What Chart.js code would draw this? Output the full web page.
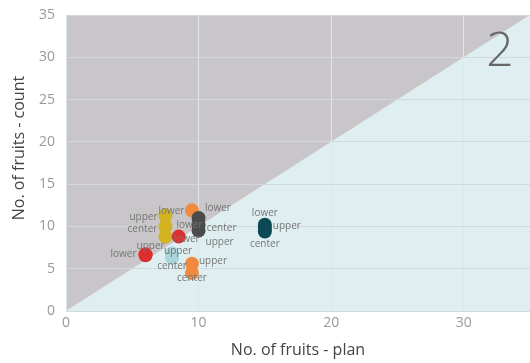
<!DOCTYPE html>
<html>
<head>
<meta charset="utf-8">
<script src="https://cdn.jsdelivr.net/npm/chart.js@4"></script>
<style>
  body { margin: 0; background: #fff; }
  #wrap { width: 530px; height: 363px; }
</style>
</head>
<body>
<div id="wrap"><canvas id="fruit_chart"></canvas></div>
<script>
// plan vs. actual fruit counts, one point per branch position
var planValues  = [7.5, 7.5, 7.5, 9.5, 10, 10, 10, 8.5, 6.0, 6.0, 8.0, 8.0, 9.5, 9.5, 15, 15, 15];
var countValues = [11.3, 10.0, 8.8, 11.9, 11.0, 10.2, 9.5, 8.8, 6.6, 6.7, 6.8, 6.3, 5.6, 4.5, 10.2, 9.8, 9.4];
var pointLabels = ['lower', 'upper', 'center', 'lower', 'lower', 'center', 'upper', 'lower', 'lower',
                   'upper', 'upper', 'center', 'upper', 'center', 'lower', 'upper', 'center'];

var xTicks = [0, 10, 20, 30];
var yTicks = [0, 5, 10, 15, 20, 25, 30, 35];
var diagonal = [0, 35];
var panelNumber = '2';

// colours and label placement (pixel offset from the point)
var pointColors = ['#d3b31f', '#d3b31f', '#d3b31f', '#f08a3e', '#4b4b4b', '#4b4b4b', '#4b4b4b',
                   '#dc2e2e', '#dc2e2e', '#dc2e2e', '#a9d5db', '#a9d5db', '#f08a3e', '#f08a3e',
                   '#0b4a54', '#0b4a54', '#0b4a54'];
var labelOffsets = [[6, -4], [-22, -9], [-23, -7], [26, -2], [-9, 7], [23, 3], [21, 11],
                    [8, 3], [-22, -1], [5, -8], [6, -2], [0, 8], [21, -2], [0, 5],
                    [0, -12], [22, -2], [0, 13]];

function buildPoints() {
    var pts = [];
    for (var i = 0; i < planValues.length; i++) {
        pts.push({x: planValues[i], y: countValues[i]});
    }
    return pts;
}

var diagLine = diagonal.map(function (v) { return {x: v, y: v}; });

var pointLabelPlugin = {
    id: 'pointLabelPlugin',
    afterDatasetsDraw: function (chart) {
        var ctx = chart.ctx;
        var meta = chart.getDatasetMeta(2);
        ctx.save();
        ctx.font = '10px "Open Sans"';
        ctx.fillStyle = '#757575';
        ctx.textAlign = 'center';
        ctx.textBaseline = 'middle';
        meta.data.forEach(function (pt, i) {
            ctx.fillText(pointLabels[i], pt.x + labelOffsets[i][0], pt.y + labelOffsets[i][1]);
        });
        ctx.restore();
    }
};

var decorPlugin = {
    id: 'decorPlugin',
    afterDraw: function (chart) {
        var ctx = chart.ctx;
        var area = chart.chartArea;
        ctx.save();
        // big panel number in the corner
        ctx.font = '300 48px "Open Sans"';
        ctx.fillStyle = '#666';
        ctx.textAlign = 'center';
        ctx.textBaseline = 'middle';
        ctx.fillText(panelNumber, area.right - 30, area.top + 37);
        // y axis title
        ctx.translate(19, (area.top + area.bottom) / 2 - 15);
        ctx.rotate(-Math.PI / 2);
        ctx.font = '16px "Open Sans"';
        ctx.fillStyle = '#444';
        ctx.fillText('No. of fruits - count', 0, 0);
        ctx.restore();
    }
};

var fc = document.getElementById('fruit_chart');
var fruitChart = new Chart(fc, {
    type: 'scatter',
    data: {
        datasets: [{
            type: 'line',
            data: diagLine,
            borderWidth: 0,
            pointRadius: 0,
            backgroundColor: '#c8c6c8',
            fill: 'end'
        },
        {
            type: 'line',
            data: diagLine,
            borderWidth: 0,
            pointRadius: 0,
            backgroundColor: '#dfeef0',
            fill: 'origin'
        },
        {
            data: buildPoints(),
            pointRadius: 7,
            pointHoverRadius: 7,
            pointBorderWidth: 0,
            backgroundColor: pointColors
        }]
    },
    options: {
        responsive: true,
        maintainAspectRatio: false,
        animation: false,
        layout: {
            autoPadding: false,
            padding: {top: 15, right: 0, left: 0, bottom: 0}
        },
        plugins: {
            legend: {display: false},
            tooltip: {enabled: false},
            filler: {drawTime: 'beforeDraw'}
        },
        scales: {
            x: {
                type: 'linear',
                min: 0,
                max: 35,
                afterBuildTicks: function (axis) {
                    axis.ticks = xTicks.map(function (v) { return {value: v}; });
                },
                afterFit: function (axis) {
                    axis.height = 52;
                    axis.paddingRight = 0;
                    axis.paddingLeft = 0;
                },
                grid: {color: '#dde8ea', drawTicks: false},
                border: {display: false},
                ticks: {
                    padding: 4,
                    color: '#999',
                    font: {family: 'Open Sans', size: 14}
                },
                title: {
                    display: true,
                    text: 'No. of fruits - plan',
                    color: '#444',
                    padding: {top: 0, bottom: 3},
                    font: {family: 'Open Sans', size: 16}
                }
            },
            y: {
                min: 0,
                max: 35,
                afterBuildTicks: function (axis) {
                    axis.ticks = yTicks.map(function (v) { return {value: v}; });
                },
                afterFit: function (axis) {
                    axis.width = 66;
                    axis.paddingTop = 0;
                    axis.paddingBottom = 0;
                },
                grid: {color: '#d3d8d9', drawTicks: false},
                border: {display: false},
                ticks: {
                    padding: 11,
                    color: '#999',
                    font: {family: 'Open Sans', size: 14}
                }
            }
        }
    },
    plugins: [pointLabelPlugin, decorPlugin]
});
</script>
</body>
</html>
